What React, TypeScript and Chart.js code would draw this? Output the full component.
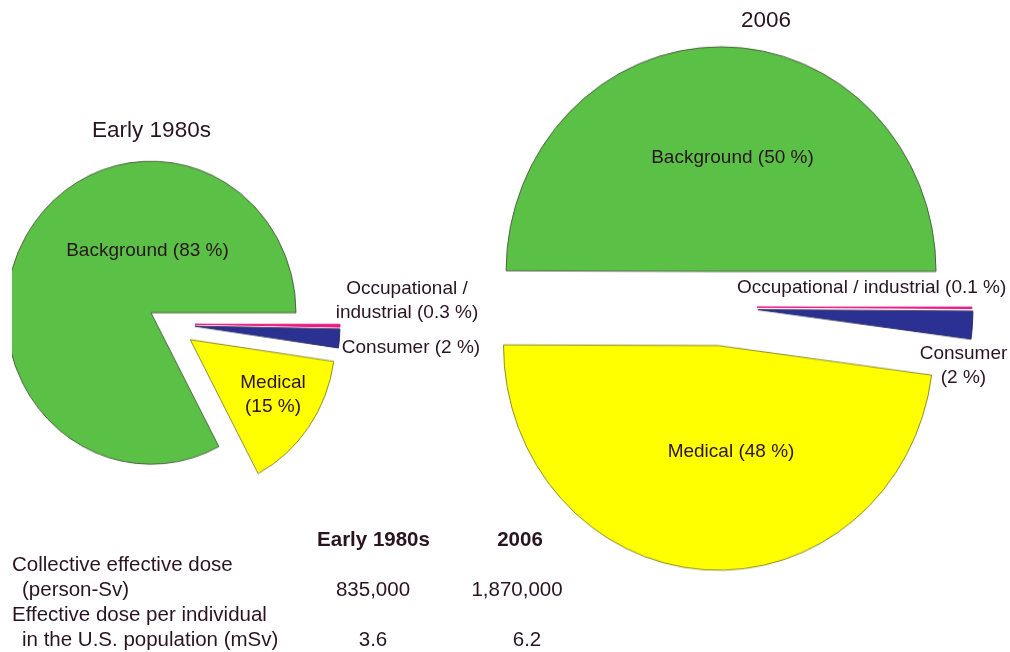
import React, { useEffect, useRef } from "react";
import { Chart, registerables } from "chart.js";

Chart.register(...registerables);

// ---------- data ----------
const categories = ["Background", "Occupational / industrial", "Consumer", "Medical"];
const shareEarly1980s = [83, 0.3, 2, 15];
const share2006 = [50, 0.1, 2, 48];
const periods = ["Early 1980s", "2006"];
const collectiveDose = ["835,000", "1,870,000"];
const perIndividualDose = ["3.6", "6.2"];

// ---------- styles ----------
const sliceColors = ["#5BC146", "#E8177F", "#2B3192", "#FFFF00"];
const sliceBorders = ["rgba(70,80,60,0.85)", "#E8177F", "rgba(40,40,90,0.9)", "rgba(120,120,40,0.85)"];
const explodeEarly = [21, 26, 26, 26];
const explode2006 = [34, 36, 37, 37];
const FONT = '"Liberation Sans", Arial, Helvetica, sans-serif';
const TEXT = "#2a1421";

function explodePlugin(dist: number[]) {
  return {
    id: "explode",
    afterDatasetUpdate(chart: any, args: any) {
      const { chartArea } = chart;
      const cx = (chartArea.left + chartArea.right) / 2;
      const cy = (chartArea.top + chartArea.bottom) / 2;
      args.meta.data.forEach((arc: any, i: number) => {
        const mid = (arc.startAngle + arc.endAngle) / 2;
        arc.x = cx + Math.cos(mid) * (dist[i] || 0);
        arc.y = cy + Math.sin(mid) * (dist[i] || 0);
      });
    },
  };
}

function makePie(canvas: HTMLCanvasElement, values: number[], explode: number[], radius: number, padding: any) {
  const total = values.reduce((a, b) => a + b, 0);
  // background slice ends at the 3 o'clock position
  const rotation = 450 - (360 * values[0]) / total;
  return new Chart(canvas, {
    type: "pie",
    data: {
      labels: categories,
      datasets: [
        {
          data: values,
          backgroundColor: sliceColors,
          borderColor: sliceBorders,
          borderWidth: 1,
          clip: false,
        } as any,
      ],
    },
    options: {
      responsive: false,
      animation: false,
      rotation,
      radius,
      events: [],
      layout: { padding },
      plugins: {
        legend: { display: false },
        tooltip: { enabled: false },
        title: { display: false },
      },
    } as any,
    plugins: [explodePlugin(explode)],
  });
}

function Label(props: { x: number; y: number; text: string; size?: number; weight?: number; align?: "left" | "center" }) {
  const { x, y, text, size = 19, weight = 400, align = "center" } = props;
  const tx = align === "center" ? "-50%" : "0";
  return (
    <div
      style={{
        position: "absolute",
        left: x,
        top: y,
        transform: `translate(${tx}, -50%)`,
        fontSize: size,
        fontWeight: weight,
        whiteSpace: "pre",
        textAlign: align,
        lineHeight: "24px",
      }}
    >
      {text}
    </div>
  );
}

export default function App() {
  const leftRef = useRef<HTMLCanvasElement>(null);
  const rightRef = useRef<HTMLCanvasElement>(null);

  useEffect(() => {
    const a = makePie(leftRef.current!, shareEarly1980s, explodeEarly, 145, { left: 0, right: 46, top: 0, bottom: 0 });
    const b = makePie(rightRef.current!, share2006, explode2006, 215, 0);
    return () => {
      a.destroy();
      b.destroy();
    };
  }, []);

  const pct = (v: number) => `(${v} %)`;

  return (
    <div
      style={{
        position: "absolute",
        left: 0,
        top: 0,
        width: 1010,
        height: 652,
        overflow: "hidden",
        background: "#ffffff",
        fontFamily: FONT,
        color: TEXT,
      }}
    >
      <canvas
        ref={leftRef}
        width={360}
        height={648}
        style={{ position: "absolute", left: 12, top: 0, width: 360, height: 648, transform: "scaleY(1.045)", transformOrigin: "157px 324px" }}
      />
      <canvas
        ref={rightRef}
        width={578}
        height={614}
        style={{ position: "absolute", left: 432, top: 0, width: 578, height: 614, transform: "scaleY(1.045)", transformOrigin: "289px 307px" }}
      />

      {/* Early 1980s pie */}
      <Label x={151.5} y={130} text={periods[0]} size={22.5} />
      <Label x={147.5} y={250} text={`${categories[0]} ${pct(shareEarly1980s[0])}`} />
      <Label x={407} y={300} text={`Occupational /\nindustrial ${pct(shareEarly1980s[1])}`} />
      <Label x={411} y={347} text={`${categories[2]} ${pct(shareEarly1980s[2])}`} />
      <Label x={273} y={393.5} text={`${categories[3]}\n${pct(shareEarly1980s[3])}`} />

      {/* 2006 pie */}
      <Label x={766} y={20} text={periods[1]} size={22.5} />
      <Label x={732.5} y={157} text={`${categories[0]} ${pct(share2006[0])}`} />
      <Label x={737} y={287} text={`${categories[1]} ${pct(share2006[1])}`} align="left" />
      <Label x={963.5} y={365} text={`${categories[2]}\n${pct(share2006[2])}`} />
      <Label x={731} y={451} text={`${categories[3]} ${pct(share2006[3])}`} />

      {/* table */}
      <Label x={373.5} y={539} text={periods[0]} size={20.5} weight={700} />
      <Label x={520} y={539} text={periods[1]} size={20.5} weight={700} />
      <Label x={12} y={564} text="Collective effective dose" size={20.5} align="left" />
      <Label x={22} y={589} text="(person-Sv)" size={20.5} align="left" />
      <Label x={373} y={589} text={collectiveDose[0]} size={20.5} />
      <Label x={517} y={589} text={collectiveDose[1]} size={20.5} />
      <Label x={12} y={614} text="Effective dose per individual" size={20.5} align="left" />
      <Label x={22} y={639} text="in the U.S. population (mSv)" size={20.5} align="left" />
      <Label x={373} y={639} text={perIndividualDose[0]} size={20.5} />
      <Label x={527} y={639} text={perIndividualDose[1]} size={20.5} />
    </div>
  );
}
